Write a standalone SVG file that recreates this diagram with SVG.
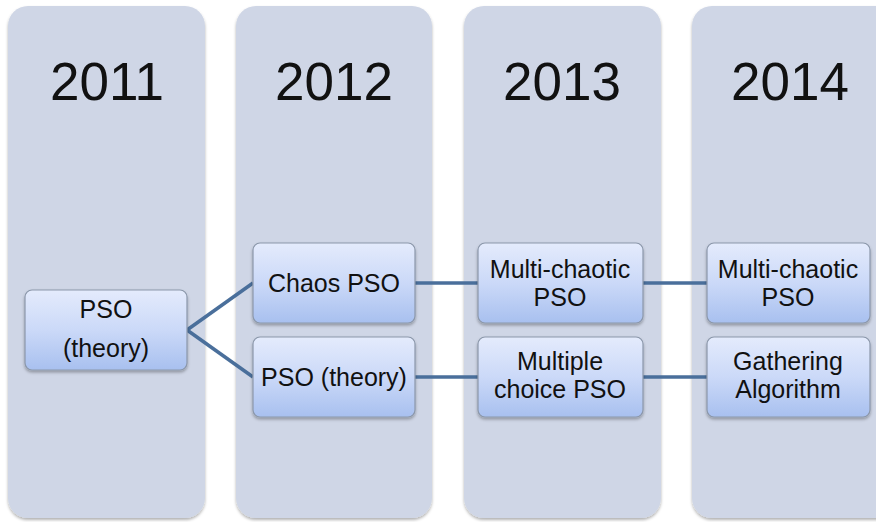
<svg xmlns="http://www.w3.org/2000/svg" width="876" height="522" viewBox="0 0 876 522">
<defs>
<linearGradient id="ng" x1="0" y1="0" x2="0" y2="1">
<stop offset="0" stop-color="#e4ebfc"/>
<stop offset="0.5" stop-color="#cbd9f8"/>
<stop offset="1" stop-color="#a8c0ef"/>
</linearGradient>
<filter id="sh" x="-10%" y="-10%" width="120%" height="120%">
<feDropShadow dx="0" dy="2" stdDeviation="1.5" flood-color="#000" flood-opacity="0.3"/>
</filter>
</defs>
<style>
.col{fill:#cfd6e6;filter:url(#sh)}
.yr{font-family:"Liberation Sans",Arial,sans-serif;font-size:53px;fill:#111;text-anchor:middle}
.nd{fill:url(#ng);stroke:#8b97aa;stroke-width:1.2;filter:url(#sh)}
.t{font-family:"Liberation Sans",Arial,sans-serif;font-size:25px;fill:#111;text-anchor:middle}
.c{stroke:#4a6f9b;stroke-width:3.5;fill:none}
</style>
<rect width="876" height="522" fill="#fff"/>
<g id="col2011"><rect class="col" x="8" y="6" width="197" height="512" rx="20"/><text class="yr" x="107" y="100">2011</text></g>
<g id="col2012"><rect class="col" x="236" y="6" width="196" height="512" rx="20"/><text class="yr" x="334" y="100">2012</text></g>
<g id="col2013"><rect class="col" x="464" y="6" width="197" height="512" rx="20"/><text class="yr" x="562" y="100">2013</text></g>
<g id="col2014"><rect class="col" x="692" y="6" width="210" height="512" rx="20"/><text class="yr" x="790" y="100">2014</text></g>
<g id="connectors">
<path class="c" d="M187 330 L253 283"/>
<path class="c" d="M187 330 L253 377"/>
<path class="c" d="M415 283 L478 283"/>
<path class="c" d="M643 283 L707 283"/>
<path class="c" d="M415 377 L478 377"/>
<path class="c" d="M643 377 L707 377"/>
</g>
<g id="n1"><rect class="nd" x="25" y="290" width="162" height="80" rx="7"/><text class="t" x="106" y="318">PSO</text><text class="t" x="106" y="357">(theory)</text></g>
<g id="n2"><rect class="nd" x="253" y="243" width="162" height="80" rx="7"/><text class="t" x="334" y="292">Chaos PSO</text></g>
<g id="n3"><rect class="nd" x="253" y="337" width="162" height="80" rx="7"/><text class="t" x="334" y="386">PSO (theory)</text></g>
<g id="n4"><rect class="nd" x="478" y="243" width="165" height="80" rx="7"/><text class="t" x="560" y="278">Multi-chaotic</text><text class="t" x="560" y="306">PSO</text></g>
<g id="n5"><rect class="nd" x="478" y="337" width="165" height="80" rx="7"/><text class="t" x="560" y="370">Multiple</text><text class="t" x="560" y="398">choice PSO</text></g>
<g id="n6"><rect class="nd" x="707" y="243" width="163" height="80" rx="7"/><text class="t" x="788" y="278">Multi-chaotic</text><text class="t" x="788" y="306">PSO</text></g>
<g id="n7"><rect class="nd" x="707" y="337" width="163" height="80" rx="7"/><text class="t" x="788" y="370">Gathering</text><text class="t" x="788" y="398">Algorithm</text></g>
</svg>
